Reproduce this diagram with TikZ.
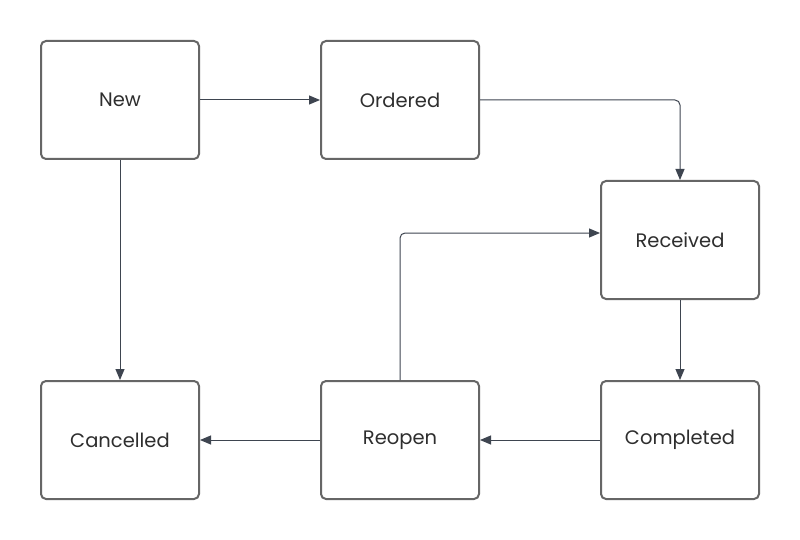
\documentclass[tikz,border=0pt]{standalone}
\usepackage{fontspec}
\setmainfont{Poppins}
\usetikzlibrary{arrows.meta}
\definecolor{boxc}{HTML}{666666}
\definecolor{linec}{HTML}{3E4550}
\definecolor{txt}{HTML}{2E2E2E}
\begin{document}
\begin{tikzpicture}[x=1pt,y=-1pt,
  state/.style={draw=boxc,line width=2pt,rounded corners=5pt,minimum width=158pt,minimum height=118pt,inner sep=0pt,text=txt,font=\fontsize{19.5}{22}\selectfont,fill=white},
  conn/.style={draw=linec,line width=1pt,-{Triangle[length=11pt,width=9pt]},rounded corners=5pt}]
\useasboundingbox[fill=white] (0,0) rectangle (800,540);
\node[state] (new) at (120,100) {New};
\node[state] (ord) at (400,100) {Ordered};
\node[state] (rec) at (680,240) {Received};
\node[state] (can) at (120,440) {Cancelled};
\node[state] (reo) at (400,440) {Reopen};
\node[state] (com) at (680,440) {Completed};
\draw[conn] (new.east) -- (ord.west);
\draw[conn] (ord.east) -| (rec.north);
\draw[conn] (new.south) -- (can.north);
\draw[conn] (rec.south) -- (com.north);
\draw[conn] (com.west) -- (reo.west -| reo.east);
\draw[conn] (reo.west) -- (can.east);
\coordinate (rin) at ([yshift=7pt]rec.west);
\draw[conn] (reo.north) |- (rin);
\end{tikzpicture}
\end{document}
